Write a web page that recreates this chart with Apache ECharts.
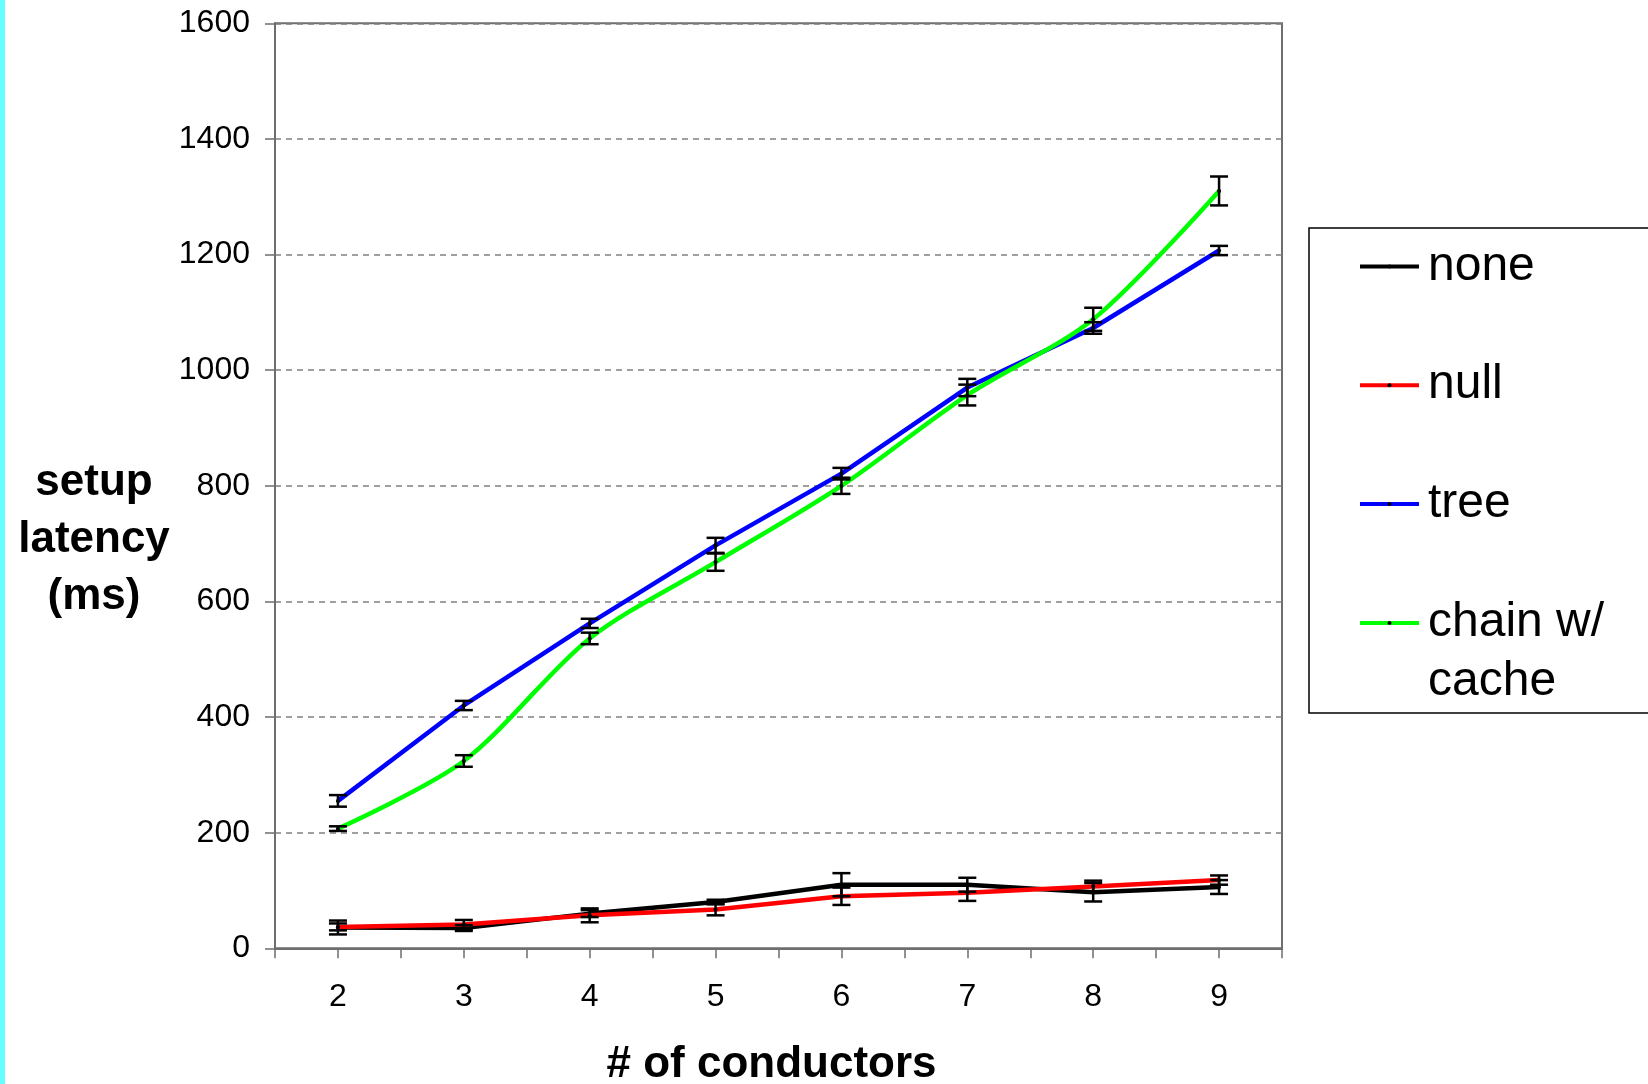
<!DOCTYPE html>
<html>
<head>
<meta charset="utf-8">
<script src="https://cdn.jsdelivr.net/npm/echarts@6/dist/echarts.min.js"></script>
<style>
html,body{margin:0;padding:0;background:#fff;}
#chart{width:1648px;height:1084px;}
</style>
</head>
<body>
<div id="chart"></div>
<script>
// ---- data ----
const conductors = [2, 3, 4, 5, 6, 7, 8, 9];

const noneVals  = [36, 35, 60, 80, 110, 110, 97, 106];
const noneErr   = [12, 5, 6, 4, 20, 12, 16, 12];

const nullVals  = [37, 41, 57, 67, 90, 96, 107, 118];
const nullErr   = [6, 8, 12, 10, 15, 14, 10, 8];

const treeVals  = [255, 420, 562, 697, 821, 970, 1073, 1207];
const treeErr   = [10, 8, 8, 13, 10, 15, 10, 8];

const chainVals = [207, 324, 536, 668, 800, 957, 1088, 1310];
const chainErr  = [4, 10, 10, 15, 14, 18, 20, 25];

const seriesNames  = ['none', 'null', 'tree', 'chain w/ cache'];
const seriesColors = ['#000000', '#ff0000', '#0000ff', '#00ff00'];
const seriesSmooth = [false, false, false, true];

const yAxisTitle = 'setup\nlatency\n(ms)';
const xAxisTitle = '# of conductors';

// ---- build chart ----
const FONT = "'Liberation Sans', Arial, sans-serif";
const allVals = [noneVals, nullVals, treeVals, chainVals];
const allErrs = [noneErr, nullErr, treeErr, chainErr];

function pairs(vals) { return conductors.map((c, i) => [c, vals[i]]); }
function errData(vals, errs) { return conductors.map((c, i) => [c, vals[i] - errs[i], vals[i] + errs[i]]); }

const series = [];
seriesNames.forEach((name, k) => {
  series.push({
    name: name,
    type: 'line',
    data: pairs(allVals[k]),
    smooth: seriesSmooth[k] ? 0.3 : false,
    symbol: 'circle',
    symbolSize: 4,
    showSymbol: true,
    itemStyle: { color: '#000' },
    lineStyle: { color: seriesColors[k], width: 4.5 },
    emphasis: { disabled: true },
    z: 2 + k * 0.1
  });
});
seriesNames.forEach((name, k) => {
  series.push({
    name: name + ' error',
    type: 'custom',
    data: errData(allVals[k], allErrs[k]),
    encode: { x: 0, y: [1, 2] },
    z: 5,
    silent: true,
    renderItem: function (params, api) {
      const x = api.value(0);
      const lo = api.coord([x, api.value(1)]);
      const hi = api.coord([x, api.value(2)]);
      const hw = 9;
      const st = { stroke: '#000', lineWidth: 2.5 };
      return {
        type: 'group',
        children: [
          { type: 'line', shape: { x1: lo[0], y1: lo[1], x2: hi[0], y2: hi[1] }, style: st },
          { type: 'line', shape: { x1: lo[0] - hw, y1: lo[1], x2: lo[0] + hw, y2: lo[1] }, style: st },
          { type: 'line', shape: { x1: hi[0] - hw, y1: hi[1], x2: hi[0] + hw, y2: hi[1] }, style: st }
        ]
      };
    }
  });
});

const axisGray = '#6e6e6e';
const legendData = seriesNames.map(n => n === 'chain w/ cache'
  ? { name: n, textStyle: { padding: [0, 0, -59, 4] } }
  : { name: n });

const option = {
  backgroundColor: '#ffffff',
  animation: false,
  textStyle: { fontFamily: FONT },
  graphic: [
    { type: 'rect', left: 0, top: 0, shape: { width: 5, height: 1084 }, style: { fill: '#66ffff' }, silent: true }
  ],
  grid: {
    left: 275, right: 366, top: 23.3, bottom: 135.7,
    containLabel: false,
    outerBoundsMode: 'none',
    show: true,
    backgroundColor: '#ffffff',
    borderColor: axisGray,
    borderWidth: 2
  },
  legend: {
    orient: 'vertical',
    left: 1309,
    top: 228,
    data: legendData,
    itemWidth: 59,
    itemHeight: 5,
    itemGap: 60.7,
    padding: [9.5, 150, 7, 49],
    borderColor: '#000',
    borderWidth: 1.5,
    backgroundColor: '#fff',
    selectedMode: false,
    lineStyle: { width: 4 },
    formatter: function (name) { return name === 'chain w/ cache' ? '{a|chain w/}\n{a|cache}' : name; },
    textStyle: {
      fontFamily: FONT,
      fontSize: 48,
      color: '#000',
      lineHeight: 58,
      padding: [0, 0, 0, 4],
      rich: {
        a: { fontFamily: FONT, fontSize: 48, color: '#000', lineHeight: 59 }
      }
    }
  },
  xAxis: {
    type: 'value',
    min: 1.5,
    max: 9.5,
    interval: 0.5,
    name: xAxisTitle,
    nameLocation: 'middle',
    nameGap: 94.7,
    nameTextStyle: { fontFamily: FONT, fontSize: 44, fontWeight: 'bold', color: '#000', padding: [0, 14, 0, 0] },
    axisLine: { show: true, lineStyle: { color: axisGray, width: 2 } },
    axisTick: { show: true, inside: false, length: 10, lineStyle: { color: axisGray, width: 1.5 } },
    axisLabel: {
      margin: 33,
      fontFamily: FONT,
      fontSize: 32,
      color: '#000',
      formatter: function (v) { return Number.isInteger(v) && conductors.indexOf(v) >= 0 ? String(v) : ''; }
    },
    splitLine: { show: false }
  },
  yAxis: {
    type: 'value',
    min: 0,
    max: 1600,
    interval: 200,
    name: yAxisTitle,
    nameLocation: 'middle',
    nameRotate: 0,
    nameGap: 181,
    nameTextStyle: {
      fontFamily: FONT, fontSize: 44, fontWeight: 'bold', color: '#000',
      align: 'center', verticalAlign: 'top', lineHeight: 57, padding: [-31, 0, 0, 0]
    },
    axisLine: { show: true, lineStyle: { color: axisGray, width: 2 } },
    axisTick: { show: true, inside: false, length: 10, lineStyle: { color: axisGray, width: 1.5 } },
    axisLabel: { margin: 25, fontFamily: FONT, fontSize: 32, color: '#000', formatter: function (v) { return String(v); } },
    splitLine: { show: true, lineStyle: { color: '#808080', width: 1.5, type: [6, 5] } }
  },
  series: series
};

const chart = echarts.init(document.getElementById('chart'), null, { renderer: 'canvas', width: 1648, height: 1084 });
chart.setOption(option);
</script>
</body>
</html>
